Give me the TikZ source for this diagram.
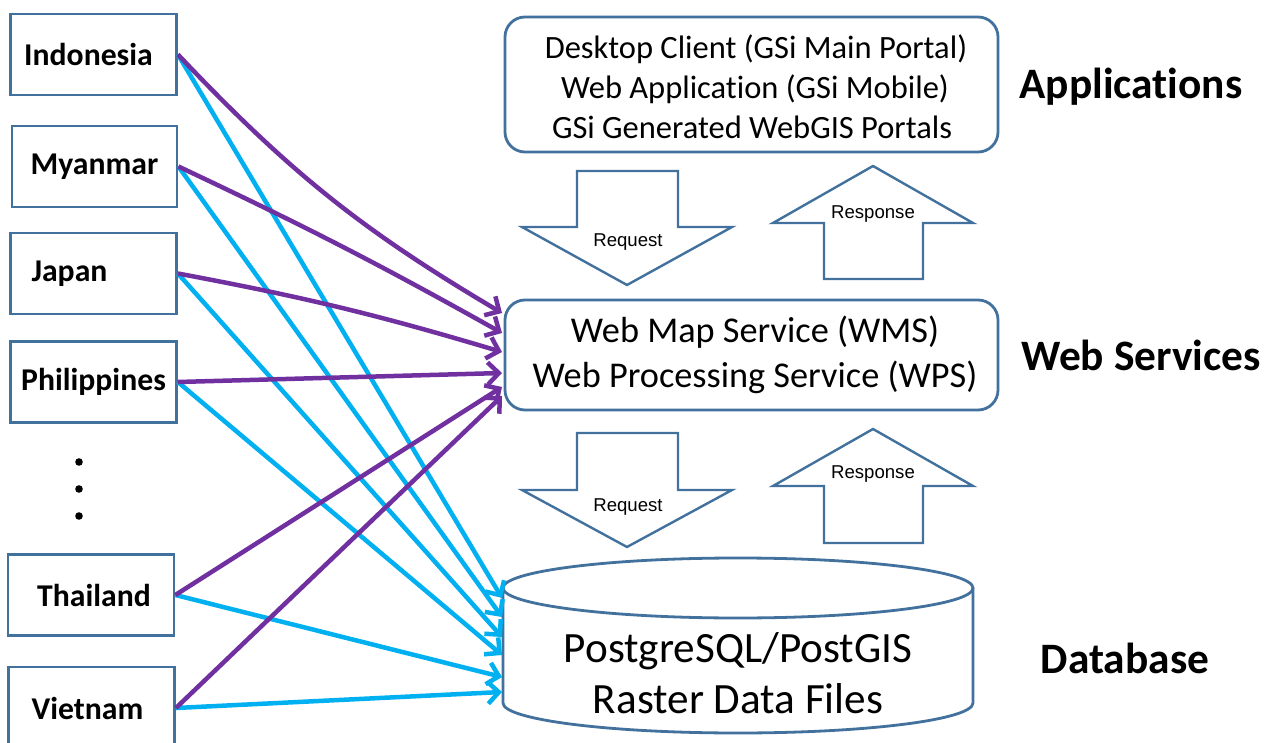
\documentclass[tikz,border=0pt]{standalone}
\usepackage{fontspec}
\setmainfont{Carlito}[Ligatures=NoCommon]
\newfontfamily\arialf{Liberation Sans}
\usetikzlibrary{arrows.meta}
\definecolor{boxblue}{HTML}{41719C}
\definecolor{lpurple}{HTML}{7030A0}
\definecolor{lcyan}{HTML}{00B0F0}
\tikzset{
  country/.style={draw=boxblue, line width=2.8pt, minimum width=166pt, minimum height=81pt, inner sep=0pt, font=\fontsize{31.7}{36}\selectfont\bfseries},
  roundbox/.style={draw=boxblue, line width=2.8pt, rounded corners=20pt, inner sep=0pt, align=center},
  blockarrow/.style={draw=boxblue, line width=2.4pt, line join=miter},
  smalltxt/.style={font=\arialf\fontsize{18.6}{22}\selectfont},
  layer/.style={font=\fontsize{43.4}{50}\selectfont\bfseries},
  purplearrow/.style={draw=lpurple, line width=4.5pt, -{Straight Barb[length=11pt,width=22pt,line width=4.5pt]}},
  cyanarrow/.style={draw=lcyan, line width=4.5pt, -{Straight Barb[length=11pt,width=22pt,line width=4.5pt]}},
}
\begin{document}
\begin{tikzpicture}[x=1pt,y=-1pt]
\useasboundingbox (0,0) rectangle (1272,743);
\fill[white] (0,0) rectangle (1272,743);

% country boxes
\node[country] (ind) at (93.5,54.5) {\hspace*{-10pt}Indonesia};
\node[country, minimum width=165pt] (mya) at (94.5,166.5) {Myanmar};
\node[country] (jap) at (93.5,273.5) {Japan\hspace*{48pt}};
\node[country] (phi) at (93.5,382) {Philippines};
\node[country] (tha) at (91,595) {\hspace*{6pt}Thailand};
\node[country, minimum height=82pt] (vie) at (91.5,708) {Vietnam\hspace*{8pt}};

% dots
\fill (79,462) circle (3.8pt);
\fill (79,489) circle (3.8pt);
\fill (79,516) circle (3.8pt);

% applications
\node[roundbox, minimum width=493pt, minimum height=135pt] (app) at (751.5,84.5) {};
\node[font=\fontsize{32.5}{40}\selectfont, align=center] (apptxt) at (752,87) {\hspace*{8pt}Desktop Client (GSi Main Portal)\\\hspace*{6pt}Web Application (GSi Mobile)\\GSi Generated WebGIS Portals};

% web services
\node[roundbox, minimum width=493pt, minimum height=110pt] (ws) at (751.5,355) {};
\node[font=\fontsize{36.3}{45}\selectfont, align=center] (wstxt) at (755,355) {Web Map Service (WMS)\\Web Processing Service (WPS)};

% database cylinder
\draw[boxblue, line width=2.8pt] (503,588) -- (503,703) arc[start angle=180, end angle=360, x radius=235pt, y radius=30pt] -- (973,588);
\draw[boxblue, line width=2.8pt] (738,588) ellipse[x radius=235pt, y radius=30pt];
\node[font=\fontsize{43.2}{51}\selectfont, align=center] (db) at (738,673) {PostgreSQL/PostGIS\\Raster Data Files};

% layer labels
\node[layer] (lapp) at (1131,87) {Applications};
\node[layer] (lws) at (1141,355) {Web Services};
\node[layer] (ldb) at (1125,658) {Database};

% block arrows
\draw[blockarrow] (577,171) -- (678,171) -- (678,227) -- (732,227) -- (627,285) -- (522,227) -- (577,227) -- cycle;
\node[smalltxt] (req1) at (628,242) {Request};
\draw[blockarrow] (824,279) -- (923,279) -- (923,223) -- (973,223) -- (873,166) -- (773,223) -- (824,223) -- cycle;
\node[smalltxt] (res1) at (873,214) {Response};
\draw[blockarrow] (577,433) -- (678,433) -- (678,490) -- (732,490) -- (627,547) -- (522,490) -- (577,490) -- cycle;
\node[smalltxt] (req2) at (628,507) {Request};
\draw[blockarrow] (824,543) -- (923,543) -- (923,486) -- (973,486) -- (873,429) -- (773,486) -- (824,486) -- cycle;
\node[smalltxt] (res2) at (873,474) {Response};

% end coordinates
\coordinate (p1) at (502,313);
\coordinate (p2) at (502,333);
\coordinate (p3) at (502,352);
\coordinate (p4) at (502,373);
\coordinate (p5) at (502,387);
\coordinate (p6) at (502,396);
\coordinate (c1) at (502,598);
\coordinate (c2) at (502,617);
\coordinate (c3) at (502,637);
\coordinate (c4) at (502,655);
\coordinate (c5) at (502,677);
\coordinate (c6) at (502,692);

% cyan connectors
\draw[cyanarrow] (ind.east) -- (c1);
\draw[cyanarrow] (mya.east) -- (c2);
\draw[cyanarrow] (jap.east) -- (c3);
\draw[cyanarrow] (phi.east) -- (c4);
\draw[cyanarrow] (tha.east) -- (c5);
\draw[cyanarrow] (vie.east) -- (c6);

% purple connectors
\draw[purplearrow] (ind.east) to[bend right=8] (p1);
\draw[purplearrow] (mya.east) to[bend left=2] (p2);
\draw[purplearrow] (jap.east) to[bend left=3] (p3);
\draw[purplearrow] (phi.east) -- (p4);
\draw[purplearrow] (tha.east) -- (p5);
\draw[purplearrow] (vie.east) -- (p6);
\end{tikzpicture}
\end{document}
